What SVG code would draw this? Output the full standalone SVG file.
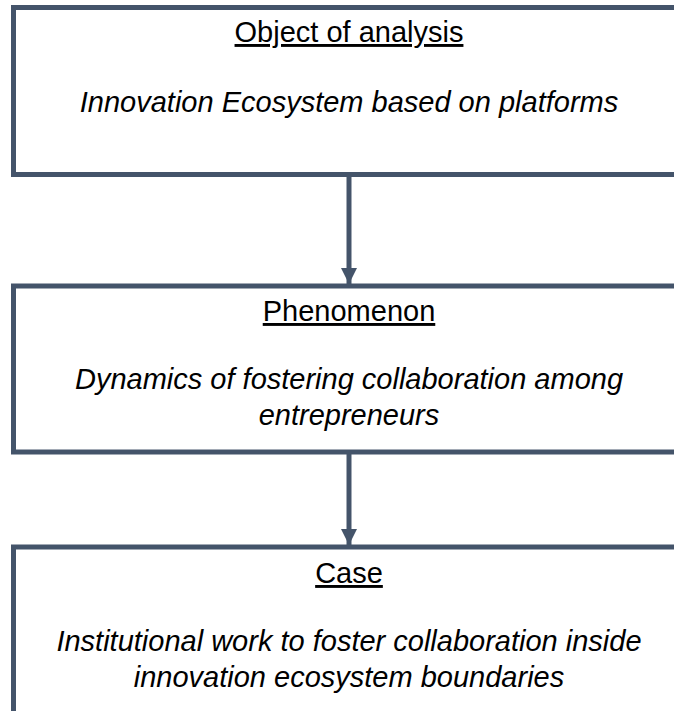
<svg xmlns="http://www.w3.org/2000/svg" width="674" height="711" viewBox="0 0 674 711">
<style>
.box{fill:#FFFFFF;stroke:#44546A;stroke-width:5}
.conn{stroke:#44546A;stroke-width:5;fill:none}
.title{font-family:"Liberation Sans",Arial,sans-serif;font-size:29px;fill:#000;text-anchor:middle;text-decoration:underline}
.body{font-family:"Liberation Sans",Arial,sans-serif;font-size:29px;font-style:italic;fill:#000;text-anchor:middle}
</style>
<defs>
<marker id="arrow" markerUnits="userSpaceOnUse" markerWidth="16" markerHeight="16" refX="16" refY="8" orient="auto" viewBox="0 0 16 16">
<path d="M0,0 L16,8 L0,16 Z" fill="#44546A"/>
</marker>
</defs>
<rect width="674" height="711" fill="#FFFFFF"/>
<g id="connectors">
<line class="conn" x1="349" y1="177" x2="349" y2="284" marker-end="url(#arrow)"/>
<line class="conn" x1="349" y1="454" x2="349" y2="545" marker-end="url(#arrow)"/>
</g>
<g id="node-object">
<rect class="box" x="13.5" y="7.5" width="700" height="167"/>
<text class="title" x="349" y="42">Object of analysis</text>
<text class="body" x="349" y="112">Innovation Ecosystem based on platforms</text>
</g>
<g id="node-phenomenon">
<rect class="box" x="13.5" y="286" width="700" height="166"/>
<text class="title" x="349" y="321">Phenomenon</text>
<text class="body" x="349" y="389">Dynamics of fostering collaboration among</text>
<text class="body" x="349" y="425">entrepreneurs</text>
</g>
<g id="node-case">
<rect class="box" x="13.5" y="547" width="700" height="300"/>
<text class="title" x="349" y="583">Case</text>
<text class="body" x="349" y="651">Institutional work to foster collaboration inside</text>
<text class="body" x="349" y="687">innovation ecosystem boundaries</text>
</g>
</svg>
